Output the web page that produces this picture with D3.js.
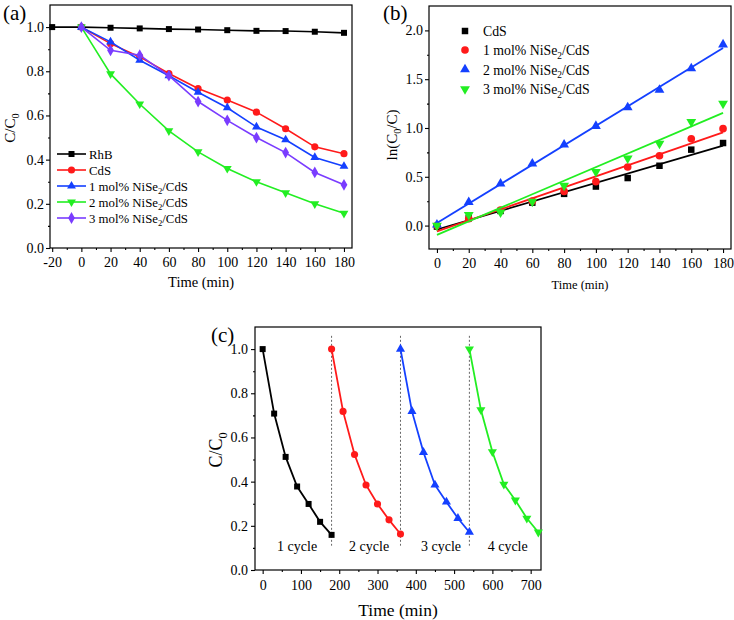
<!DOCTYPE html>
<html><head><meta charset="utf-8">
<script src="https://cdn.jsdelivr.net/npm/d3@7"></script>
<style>
body{margin:0;background:#fff}
svg{display:block}
text{font-family:"Liberation Serif","Times New Roman",serif;fill:#000}
</style>
</head><body>
<svg id="chart" width="734" height="620"></svg>
<script>
// ---------------- DATA ----------------
// Panel (a): C/C0 vs time
const timeRhB = [-20, 0, 20, 40, 60, 80, 100, 120, 140, 160, 180];
const timeA = [0, 20, 40, 60, 80, 100, 120, 140, 160, 180];
const rhbA = [1.0, 1.0, 0.997, 0.994, 0.991, 0.989, 0.986, 0.983, 0.982, 0.979, 0.974];
const cdsA = [1.0, 0.925, 0.865, 0.79, 0.722, 0.67, 0.615, 0.54, 0.458, 0.427];
const mol1A = [1.0, 0.933, 0.85, 0.78, 0.705, 0.635, 0.548, 0.49, 0.41, 0.37];
const mol2A = [1.0, 0.788, 0.652, 0.53, 0.435, 0.36, 0.30, 0.25, 0.20, 0.157];
const mol3A = [1.0, 0.895, 0.873, 0.78, 0.663, 0.578, 0.50, 0.432, 0.342, 0.286];
const legendA = ["RhB", "CdS", "1 mol% NiSe|2|/CdS", "2 mol% NiSe|2|/CdS", "3 mol% NiSe|2|/CdS"];
const xTicksA = [-20, 0, 20, 40, 60, 80, 100, 120, 140, 160, 180];
const yTicksA = [0.0, 0.2, 0.4, 0.6, 0.8, 1.0];

// Panel (b): ln(C0/C) vs time with linear fits
const timeB = [0, 20, 40, 60, 80, 100, 120, 140, 160, 180];
const cdsB = [-0.01, 0.075, 0.15, 0.235, 0.325, 0.40, 0.487, 0.613, 0.778, 0.846];
const mol1B = [0.0, 0.07, 0.16, 0.25, 0.35, 0.45, 0.60, 0.716, 0.89, 0.993];
const mol2B = [0.01, 0.24, 0.43, 0.635, 0.83, 1.02, 1.21, 1.39, 1.61, 1.855];
const mol3B = [0.0, 0.11, 0.135, 0.245, 0.41, 0.55, 0.69, 0.84, 1.062, 1.25];
const legendB = ["CdS", "1 mol% NiSe|2|/CdS", "2 mol% NiSe|2|/CdS", "3 mol% NiSe|2|/CdS"];
const xTicksB = [0, 20, 40, 60, 80, 100, 120, 140, 160, 180];
const yTicksB = [0.0, 0.5, 1.0, 1.5, 2.0];

// Panel (c): cycling test
const timeC1 = [0, 30, 60, 90, 120, 150, 180];
const timeC2 = [180, 210, 240, 270, 300, 330, 360];
const timeC3 = [360, 390, 420, 450, 480, 510, 540];
const timeC4 = [540, 570, 600, 630, 660, 690, 720];
const cyc1 = [1.0, 0.708, 0.512, 0.378, 0.299, 0.218, 0.159];
const cyc2 = [1.0, 0.718, 0.523, 0.385, 0.299, 0.227, 0.163];
const cyc3 = [1.0, 0.718, 0.533, 0.385, 0.308, 0.234, 0.171];
const cyc4 = [1.0, 0.725, 0.535, 0.388, 0.316, 0.234, 0.171];
const cycleLabels = ["1 cycle", "2 cycle", "3 cycle", "4 cycle"];
const cycleLabelX = [90, 278, 466, 640];
const cycleDividers = [180, 360, 540];
const xTicksC = [0, 100, 200, 300, 400, 500, 600, 700];
const yTicksC = [0.0, 0.2, 0.4, 0.6, 0.8, 1.0];

// ---------------- STYLE ----------------
const BLACK = "#000000", RED = "#ff1a1a", BLUE = "#1440ff", GREEN = "#22ee22", PURPLE = "#7a3cff";
const FONT = "Liberation Serif, Times New Roman, serif";

const svg = d3.select("#chart").attr("font-family", FONT);
svg.append("rect").attr("width", 734).attr("height", 620).attr("fill", "#fff");

function richText(sel, str, fs) {
  sel.attr("font-family", FONT);
  const parts = str.split("|");
  parts.forEach((p, i) => {
    if (!p) return;
    const t = sel.append("tspan").text(p);
    if (i % 2 === 1) {
      t.attr("font-size", fs * 0.68).attr("dy", fs * 0.28);
    } else if (i > 0) {
      t.attr("dy", -fs * 0.28);
    }
  });
  return sel;
}
function plainText(g, str, fs) {
  return g.append("text").attr("font-family", FONT).attr("font-size", fs).text(str);
}

function symbolPath(kind, size) {
  const map = {square: d3.symbolSquare, circle: d3.symbolCircle, up: d3.symbolTriangle, down: d3.symbolTriangle, diamond: d3.symbolDiamond};
  return d3.symbol().type(map[kind]).size(size)();
}
function drawMarkers(g, pts, x, y, kind, size, color) {
  g.selectAll(null).data(pts).enter().append("path")
    .attr("d", symbolPath(kind, size))
    .attr("transform", d => `translate(${x(d[0])},${y(d[1])})` + (kind === "down" ? " rotate(180)" : ""))
    .attr("fill", color);
}

const fmtInt = d => String(d).replace("\u2212", "-");
const fmt1 = d => d.toFixed(1);

function drawAxes(g, x, y, cfg) {
  const [xl, xr] = x.range(), [yb, yt] = y.range();
  const styleAxis = s => {
    s.select(".domain").remove();
    s.attr("font-family", FONT).attr("font-size", cfg.fs);
    s.selectAll("line").attr("stroke", "#000").attr("stroke-width", 1.1);
    s.selectAll("text").attr("fill", "#000").attr("font-family", FONT);
  };
  g.append("g").attr("transform", `translate(0,${yb})`)
    .call(d3.axisBottom(x).tickValues(cfg.xMajor).tickSize(4).tickPadding(cfg.padX).tickFormat(fmtInt))
    .call(styleAxis);
  g.append("g").attr("transform", `translate(0,${yb})`)
    .call(d3.axisBottom(x).tickValues(cfg.xMinor).tickSize(2).tickFormat(""))
    .call(styleAxis);
  g.append("g").attr("transform", `translate(${xl},0)`)
    .call(d3.axisLeft(y).tickValues(cfg.yMajor).tickSize(4).tickPadding(cfg.padY).tickFormat(fmt1))
    .call(styleAxis);
  g.append("g").attr("transform", `translate(${xl},0)`)
    .call(d3.axisLeft(y).tickValues(cfg.yMinor).tickSize(2).tickFormat(""))
    .call(styleAxis);
  g.append("rect").attr("x", xl).attr("y", yt).attr("width", xr - xl).attr("height", yb - yt)
    .attr("fill", "none").attr("stroke", "#000").attr("stroke-width", 1.2);
}

function mid(lo, hi, step) { // minor tick positions between majors
  const out = [];
  for (let v = lo; v <= hi + 1e-9; v += step) out.push(+v.toFixed(4));
  return out;
}

// ---------------- PANEL (a) ----------------
{
  const g = svg.append("g");
  const x = d3.scaleLinear().domain([-21.5, 185.5]).range([50, 352]);
  const y = d3.scaleLinear().domain([0, 1.1]).range([248, 5]);
  drawAxes(g, x, y, {
    xMajor: xTicksA, xMinor: mid(-10, 170, 20), yMajor: yTicksA, yMinor: mid(0.1, 0.9, 0.2),
    fs: 14, padX: 5, padY: 2
  });
  const series = [
    {t: timeRhB, v: rhbA, c: BLACK, k: "square", s: 36},
    {t: timeA, v: cdsA, c: RED, k: "circle", s: 40},
    {t: timeA, v: mol1A, c: BLUE, k: "up", s: 34},
    {t: timeA, v: mol2A, c: GREEN, k: "down", s: 34},
    {t: timeA, v: mol3A, c: PURPLE, k: "diamond", s: 40}
  ];
  const line = d3.line().x(d => x(d[0])).y(d => y(d[1]));
  series.forEach(s => {
    const pts = s.t.map((t, i) => [t, s.v[i]]);
    g.append("path").attr("d", line(pts)).attr("fill", "none").attr("stroke", s.c).attr("stroke-width", 1.6);
    drawMarkers(g, pts, x, y, s.k, s.s, s.c);
  });
  const rowsY = [154, 170, 186, 202, 218];
  series.forEach((s, i) => {
    const ly = rowsY[i];
    g.append("line").attr("x1", 57).attr("x2", 86).attr("y1", ly).attr("y2", ly).attr("stroke", s.c).attr("stroke-width", 1.6);
    g.append("path").attr("d", symbolPath(s.k, s.s))
      .attr("transform", `translate(71.5,${ly})` + (s.k === "down" ? " rotate(180)" : "")).attr("fill", s.c);
    richText(g.append("text").attr("x", 89).attr("y", ly + 4.5).attr("font-size", 12.8), legendA[i], 12.8);
  });
  plainText(g, "Time (min)", 14.5).attr("x", 201).attr("y", 287).attr("text-anchor", "middle");
  richText(g.append("text").attr("transform", "translate(15,128) rotate(-90)").attr("text-anchor", "middle").attr("font-size", 15), "C/C|0|", 15);
  plainText(g, "(a)", 21).attr("x", 3).attr("y", 20);
}

// ---------------- PANEL (b) ----------------
{
  const g = svg.append("g");
  const x = d3.scaleLinear().domain([-5, 185]).range([429, 731]);
  const y = d3.scaleLinear().domain([-0.24, 2.25]).range([249, 6]);
  drawAxes(g, x, y, {
    xMajor: xTicksB, xMinor: mid(10, 170, 20), yMajor: yTicksB, yMinor: mid(0.25, 1.75, 0.5),
    fs: 14, padX: 5, padY: 2
  });
  const series = [
    {v: cdsB, c: BLACK, k: "square", s: 42},
    {v: mol1B, c: RED, k: "circle", s: 46},
    {v: mol2B, c: BLUE, k: "up", s: 42},
    {v: mol3B, c: GREEN, k: "down", s: 42}
  ];
  series.forEach(s => {
    const pts = timeB.map((t, i) => [t, s.v[i]]);
    const mx = d3.mean(timeB), my = d3.mean(s.v);
    const slope = d3.sum(pts, p => (p[0] - mx) * (p[1] - my)) / d3.sum(timeB, t => (t - mx) * (t - mx));
    const icpt = my - slope * mx;
    const ext = d3.extent(timeB);
    g.append("line")
      .attr("x1", x(ext[0])).attr("y1", y(icpt + slope * ext[0]))
      .attr("x2", x(ext[1])).attr("y2", y(icpt + slope * ext[1]))
      .attr("stroke", s.c).attr("stroke-width", 1.8);
    drawMarkers(g, pts, x, y, s.k, s.s, s.c);
  });
  const rowsY = [31, 50, 69.5, 89];
  series.forEach((s, i) => {
    const ly = rowsY[i];
    g.append("path").attr("d", symbolPath(s.k, s.s))
      .attr("transform", `translate(465,${ly})` + (s.k === "down" ? " rotate(180)" : "")).attr("fill", s.c);
    richText(g.append("text").attr("x", 483).attr("y", ly + 5).attr("font-size", 13.8), legendB[i], 13.8);
  });
  plainText(g, "Time (min)", 12.5).attr("x", 580).attr("y", 289).attr("text-anchor", "middle");
  richText(g.append("text").attr("transform", "translate(397,135) rotate(-90)").attr("text-anchor", "middle").attr("font-size", 15), "ln(C|0|/C)", 15);
  plainText(g, "(b)", 21).attr("x", 383).attr("y", 20);
}

// ---------------- PANEL (c) ----------------
{
  const g = svg.append("g");
  const x = d3.scaleLinear().domain([-20, 727]).range([255, 541]);
  const y = d3.scaleLinear().domain([0, 1.1]).range([570, 327]);
  drawAxes(g, x, y, {
    xMajor: xTicksC, xMinor: mid(50, 650, 100), yMajor: yTicksC, yMinor: mid(0.1, 0.9, 0.2),
    fs: 14, padX: 6, padY: 3
  });
  cycleDividers.forEach(t => {
    g.append("line").attr("x1", x(t)).attr("x2", x(t)).attr("y1", y(1.06)).attr("y2", y(0.11))
      .attr("stroke", "#555").attr("stroke-width", 0.9).attr("stroke-dasharray", "2,2");
  });
  const series = [
    {t: timeC1, v: cyc1, c: BLACK, k: "square", s: 36},
    {t: timeC2, v: cyc2, c: RED, k: "circle", s: 40},
    {t: timeC3, v: cyc3, c: BLUE, k: "up", s: 36},
    {t: timeC4, v: cyc4, c: GREEN, k: "down", s: 36}
  ];
  const line = d3.line().x(d => x(d[0])).y(d => y(d[1]));
  series.forEach(s => {
    const pts = s.t.map((t, i) => [t, s.v[i]]);
    g.append("path").attr("d", line(pts)).attr("fill", "none").attr("stroke", s.c).attr("stroke-width", 1.8);
    drawMarkers(g, pts, x, y, s.k, s.s, s.c);
  });
  cycleLabels.forEach((lab, i) => {
    plainText(g, lab, 14).attr("x", x(cycleLabelX[i])).attr("y", y(0.11) + 5).attr("text-anchor", "middle")
      .attr("fill", "#222");
  });
  plainText(g, "Time (min)", 17.5).attr("x", 398).attr("y", 616).attr("text-anchor", "middle");
  richText(g.append("text").attr("transform", "translate(222,450) rotate(-90)").attr("text-anchor", "middle").attr("font-size", 18), "C/C|0|", 18);
  plainText(g, "(c)", 21).attr("x", 211).attr("y", 342);
}
</script>
</body></html>
